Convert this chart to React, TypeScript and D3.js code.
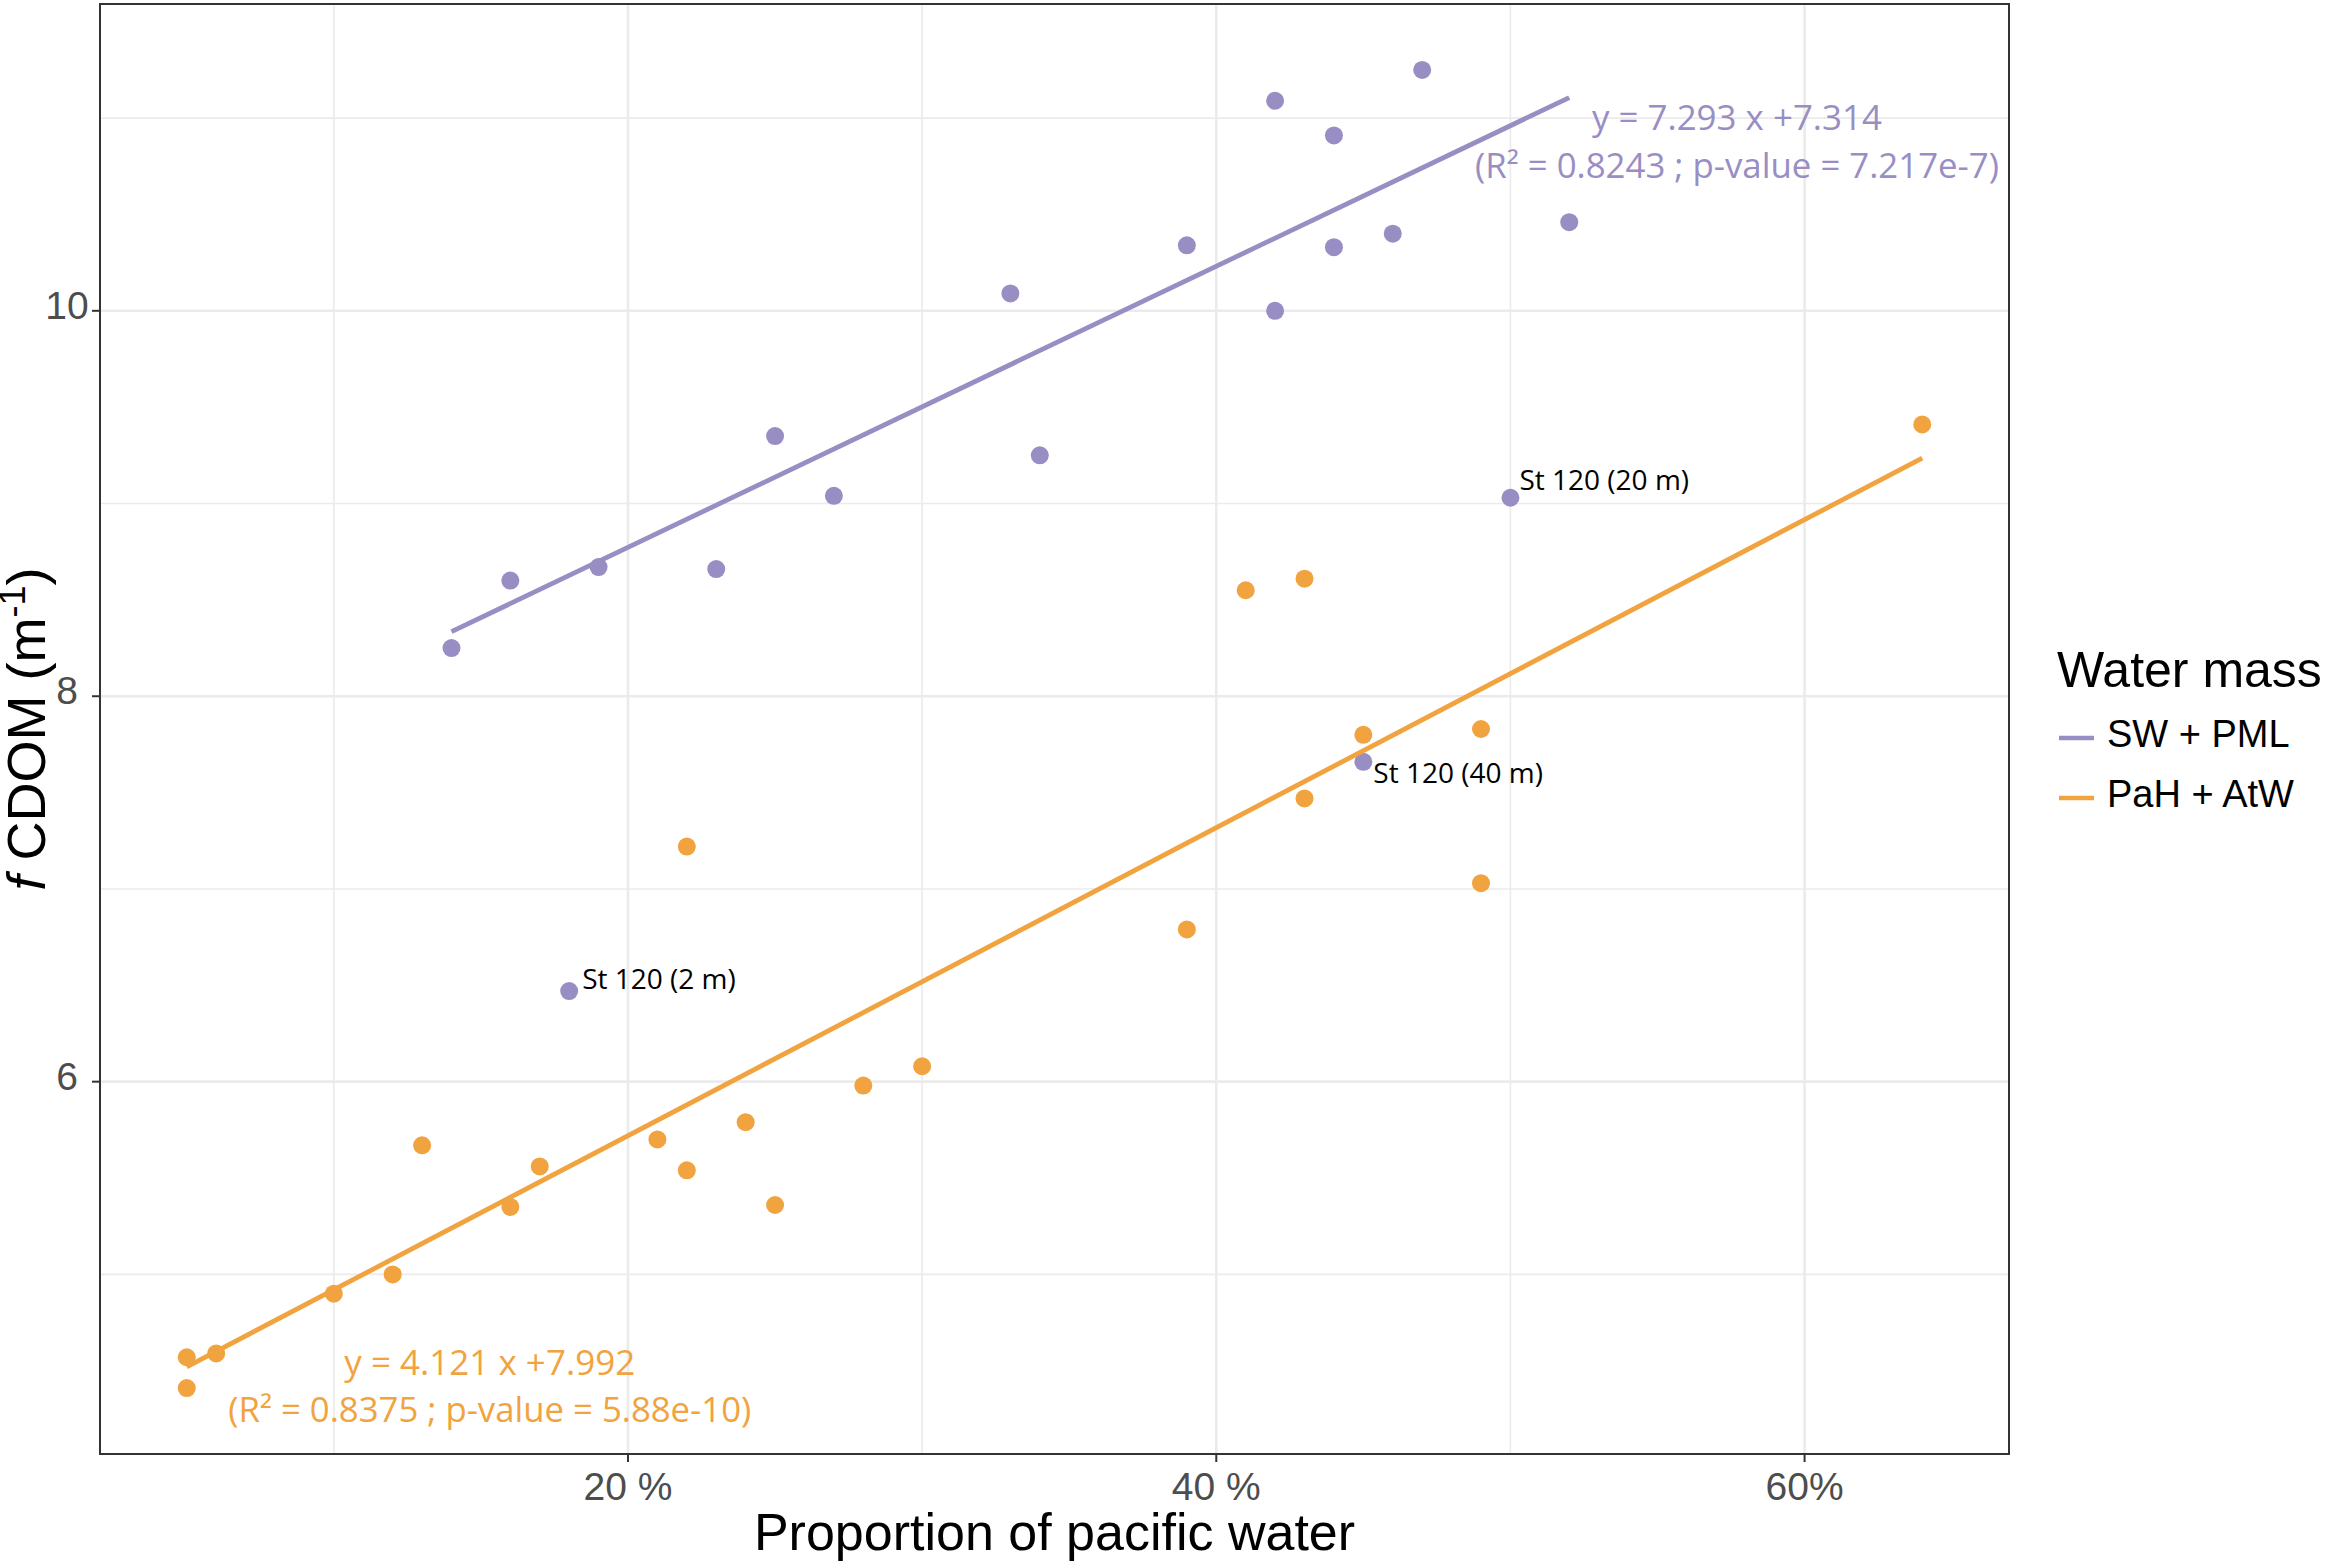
import React from 'react';
import * as d3 from 'd3';

// pacific water proportion (%) and fCDOM (m-1)
const swX = [14, 16, 19, 23, 25, 27, 33, 34, 39, 42, 42, 44, 44, 46, 47, 52, 50, 45, 18];
const swY = [8.25, 8.6, 8.67, 8.66, 9.35, 9.04, 10.09, 9.25, 10.34, 11.09, 10.0, 10.91, 10.33, 10.4, 11.25, 10.46, 9.03, 7.66, 6.47];

const pahX = [5, 5, 6, 10, 12, 13, 16, 17, 21, 22, 22, 24, 25, 28, 30, 39, 41, 43, 43, 45, 49, 49, 64];
const pahY = [4.57, 4.41, 4.59, 4.9, 5.0, 5.67, 5.35, 5.56, 5.7, 7.22, 5.54, 5.79, 5.36, 5.98, 6.08, 6.79, 8.55, 8.61, 7.47, 7.8, 7.83, 7.03, 9.41];

// fitted lines: intercept, slope (per unit proportion), x range (%)
const swFit = [7.314, 7.293];
const swFitRange = [14, 52];
const pahFit = [4.121, 7.992];
const pahFitRange = [5, 64];

const seriesNames = ['SW + PML', 'PaH + AtW'];
const seriesColors = ['#998ec3', '#f1a340'];

const xTicks = [20, 40, 60];
const xTickLabels = ['20 %', '40 %', '60%'];
const xMinor = [10, 30, 50];
const yTicks = [6, 8, 10];
const yMinor = [5, 7, 9, 11];

const stationLabels = ['St 120 (20 m)', 'St 120 (40 m)', 'St 120 (2 m)'];
const stationX = [50, 45, 18];
const stationY = [9.03, 7.66, 6.47];
const stationOffset = [[9, -8], [10, 21], [13, -2]];

const swEq = ['y = 7.293 x +7.314', '(R² = 0.8243 ; p-value = 7.217e-7)'];
const pahEq = ['y = 4.121 x +7.992', '(R² = 0.8375 ; p-value = 5.88e-10)'];
const swEqPos = [57.7, 10.94];
const pahEqPos = [15.3, 4.478];

const W = 2333;
const H = 1564;
const margin = { top: 4, right: 324, bottom: 110, left: 100 };

function expand(ext: number[]) {
  const pad = (ext[1] - ext[0]) * 0.05;
  return [ext[0] - pad, ext[1] + pad];
}

const App: React.FC = () => {
  const allX = [...swX, ...pahX];
  const allY = [...swY, ...pahY];
  const x = d3.scaleLinear()
    .domain(expand(d3.extent(allX) as number[]))
    .range([margin.left, W - margin.right]);
  const y = d3.scaleLinear()
    .domain(expand(d3.extent(allY) as number[]))
    .range([H - margin.bottom, margin.top]);

  const [x0, x1] = x.range();
  const [y0, y1] = y.range();

  const fitLine = (fit: number[], range: number[]) => {
    const pts: [number, number][] = range.map(v => [v, fit[0] + fit[1] * v / 100]);
    return d3.line<[number, number]>().x(d => x(d[0])).y(d => y(d[1]))(pts) ?? '';
  };

  const axisFont = '"Liberation Sans", Arial, Helvetica, sans-serif';
  const noteFont = '"Open Sans", "Noto Sans", sans-serif';

  return (
    <svg width={W} height={H} style={{ position: 'absolute', left: 0, top: 0, background: '#fff' }}>
      <rect x={0} y={0} width={W} height={H} fill="#fff" />
      {/* grid */}
      <g>
        {xMinor.map(v => (
          <line key={'xm' + v} x1={x(v)} x2={x(v)} y1={y0} y2={y1} stroke="#ebebeb" strokeWidth={1.6} />
        ))}
        {yMinor.map(v => (
          <line key={'ym' + v} x1={x0} x2={x1} y1={y(v)} y2={y(v)} stroke="#ebebeb" strokeWidth={1.6} />
        ))}
        {xTicks.map(v => (
          <line key={'xg' + v} x1={x(v)} x2={x(v)} y1={y0} y2={y1} stroke="#ebebeb" strokeWidth={2.6} />
        ))}
        {yTicks.map(v => (
          <line key={'yg' + v} x1={x0} x2={x1} y1={y(v)} y2={y(v)} stroke="#ebebeb" strokeWidth={2.6} />
        ))}
      </g>

      {/* points */}
      <g>
        {swX.map((v, i) => (
          <circle key={'sw' + i} cx={x(v)} cy={y(swY[i])} r={9} fill={seriesColors[0]} />
        ))}
        {pahX.map((v, i) => (
          <circle key={'pa' + i} cx={x(v)} cy={y(pahY[i])} r={9} fill={seriesColors[1]} />
        ))}
      </g>

      {/* regression lines */}
      <path d={fitLine(swFit, swFitRange)} stroke={seriesColors[0]} strokeWidth={4.8} fill="none" />
      <path d={fitLine(pahFit, pahFitRange)} stroke={seriesColors[1]} strokeWidth={4.8} fill="none" />

      {/* station labels */}
      {stationLabels.map((s, i) => (
        <text key={s} x={x(stationX[i]) + stationOffset[i][0]} y={y(stationY[i]) + stationOffset[i][1]}
          fontFamily={noteFont} fontSize={28} fill="#000">{s}</text>
      ))}

      {/* equations */}
      {swEq.map((s, i) => (
        <text key={s} x={x(swEqPos[0])} y={y(swEqPos[1]) + i * 48} textAnchor="middle"
          fontFamily={noteFont} fontSize={34} fill={seriesColors[0]}
          textLength={i === 0 ? 290 : 524} lengthAdjust="spacingAndGlyphs">{s}</text>
      ))}
      {pahEq.map((s, i) => (
        <text key={s} x={x(pahEqPos[0])} y={y(pahEqPos[1]) + i * 47} textAnchor="middle"
          fontFamily={noteFont} fontSize={34} fill={seriesColors[1]}
          textLength={i === 0 ? 291 : 523} lengthAdjust="spacingAndGlyphs">{s}</text>
      ))}

      {/* panel border */}
      <rect x={x0} y={y1} width={x1 - x0} height={y0 - y1} fill="none" stroke="#333" strokeWidth={2} />

      {/* x axis */}
      {xTicks.map((v, i) => (
        <g key={'xt' + v}>
          <line x1={x(v)} x2={x(v)} y1={y0} y2={y0 + 8} stroke="#333" strokeWidth={2} />
          <text x={x(v)} y={y0 + 46} textAnchor="middle" fontFamily={axisFont} fontSize={39} fill="#4d4d4d">
            {xTickLabels[i]}
          </text>
        </g>
      ))}
      <text x={(x0 + x1) / 2} y={1550} textAnchor="middle" fontFamily={axisFont} fontSize={52} fill="#000">
        Proportion of pacific water
      </text>

      {/* y axis */}
      {yTicks.map(v => (
        <g key={'yt' + v}>
          <line x1={x0 - 8} x2={x0} y1={y(v)} y2={y(v)} stroke="#333" strokeWidth={2} />
          <text x={67} y={y(v) - 6} dy="0.36em" textAnchor="middle" fontFamily={axisFont} fontSize={39} fill="#4d4d4d">
            {v}
          </text>
        </g>
      ))}
      <text transform={`translate(45,${(y0 + y1) / 2}) rotate(-90)`} textAnchor="middle"
        fontFamily={axisFont} fontSize={54} fill="#000">
        <tspan fontStyle="italic">f</tspan>
        <tspan> CDOM (m</tspan>
        <tspan fontSize={36} dy={-20}>-1</tspan>
        <tspan dy={20}>)</tspan>
      </text>

      {/* legend */}
      <text x={2057} y={687} fontFamily={axisFont} fontSize={50} fill="#000">Water mass</text>
      {seriesNames.map((s, i) => (
        <g key={s}>
          <line x1={2059} x2={2094} y1={738 + i * 60} y2={738 + i * 60} stroke={seriesColors[i]} strokeWidth={4.5} />
          <text x={2107} y={747 + i * 60} fontFamily={axisFont} fontSize={38} fill="#000">{s}</text>
        </g>
      ))}
    </svg>
  );
};

export default App;
